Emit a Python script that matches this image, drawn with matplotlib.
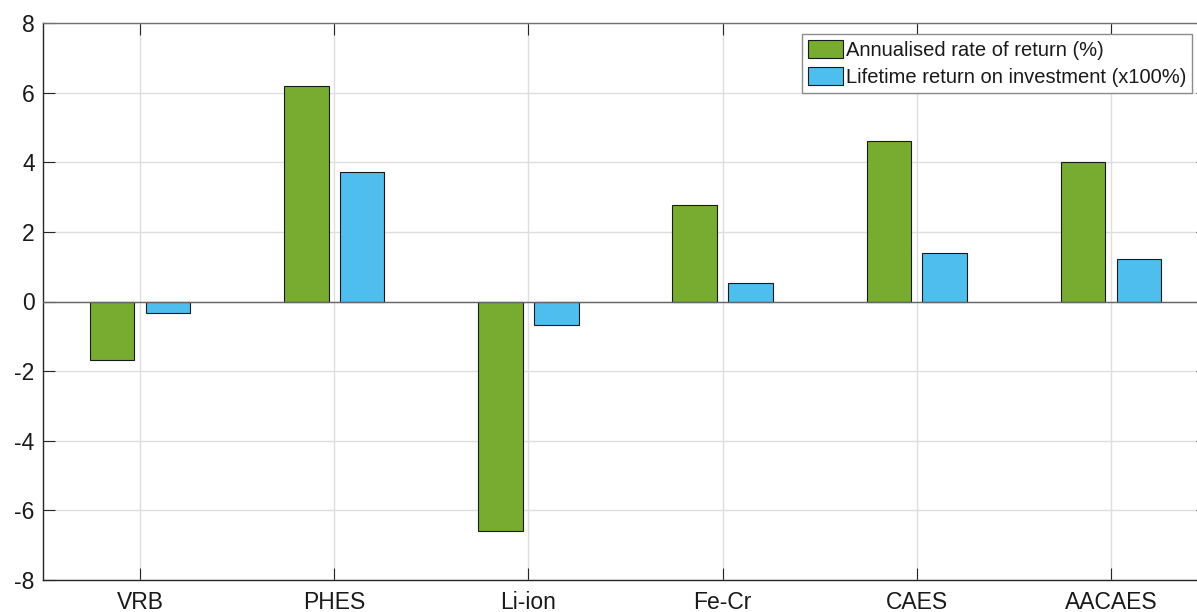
import numpy as np
import matplotlib
matplotlib.use("Agg")
import matplotlib.pyplot as plt

plt.rcParams['font.family'] = ['Liberation Sans', 'DejaVu Sans']

categories = ["VRB", "PHES", "Li-ion", "Fe-Cr", "CAES", "AACAES"]
annualised_rate = [-1.68, 6.18, -6.59, 2.76, 4.62, 4.00]
lifetime_roi = [-0.33, 3.71, -0.67, 0.53, 1.38, 1.21]
series_labels = ["Annualised rate of return (%)", "Lifetime return on investment (x100%)"]
yticks = [-8, -6, -4, -2, 0, 2, 4, 6, 8]

W, H = 1197, 612
fig = plt.figure(figsize=(W / 100, H / 100), dpi=100)
ax = fig.add_axes([43 / W, (H - 580) / H, (1208 - 43) / W, (580 - 23) / H])

x = np.arange(1, len(categories) + 1)
width = 0.229
offset = 0.1435
green = "#77AC30"
blue = "#4DBEEE"

ax.bar(x - offset, annualised_rate, width, color=green, edgecolor="#1a1a1a",
       linewidth=0.8, label=series_labels[0], zorder=3)
ax.bar(x + offset, lifetime_roi, width, color=blue, edgecolor="#1a1a1a",
       linewidth=0.8, label=series_labels[1], zorder=3)

# baseline at zero
ax.axhline(0, color="#666666", linewidth=1.0, zorder=4)

ax.set_xlim(0.5, 6.5)
ax.set_ylim(-8, 8)
ax.set_xticks(x)
ax.set_xticklabels(categories)
ax.set_yticks(yticks)
ax.set_yticklabels([str(v) for v in yticks])

ax.grid(True, color="#dedede", linewidth=1.0, zorder=0)
ax.set_axisbelow(True)

ax.tick_params(axis="both", direction="in", length=8.5, width=0.8,
               color="#262626", labelsize=16.5, labelcolor="#1a1a1a",
               top=True, right=True)
ax.tick_params(axis="y", pad=6)
ax.tick_params(axis="x", pad=8)

for side in ("left", "bottom", "right"):
    ax.spines[side].set_color("#262626")
    ax.spines[side].set_linewidth(1.0)
ax.spines["top"].set_color("#707070")
ax.spines["top"].set_linewidth(1.0)

leg = ax.legend(loc="upper left", bbox_to_anchor=(801.7 / W, 1 - 34 / H),
                bbox_transform=fig.transFigure, borderaxespad=0,
                fontsize=14.5, frameon=True, fancybox=False, shadow=False,
                framealpha=1, edgecolor="#8c8c8c", handlelength=1.74,
                handleheight=1.0, handletextpad=0.15, borderpad=0.3,
                labelspacing=0.35)
leg.get_frame().set_linewidth(1.0)
for t in leg.get_texts():
    t.set_color("#1a1a1a")

fig.savefig("out.png", dpi=100)
